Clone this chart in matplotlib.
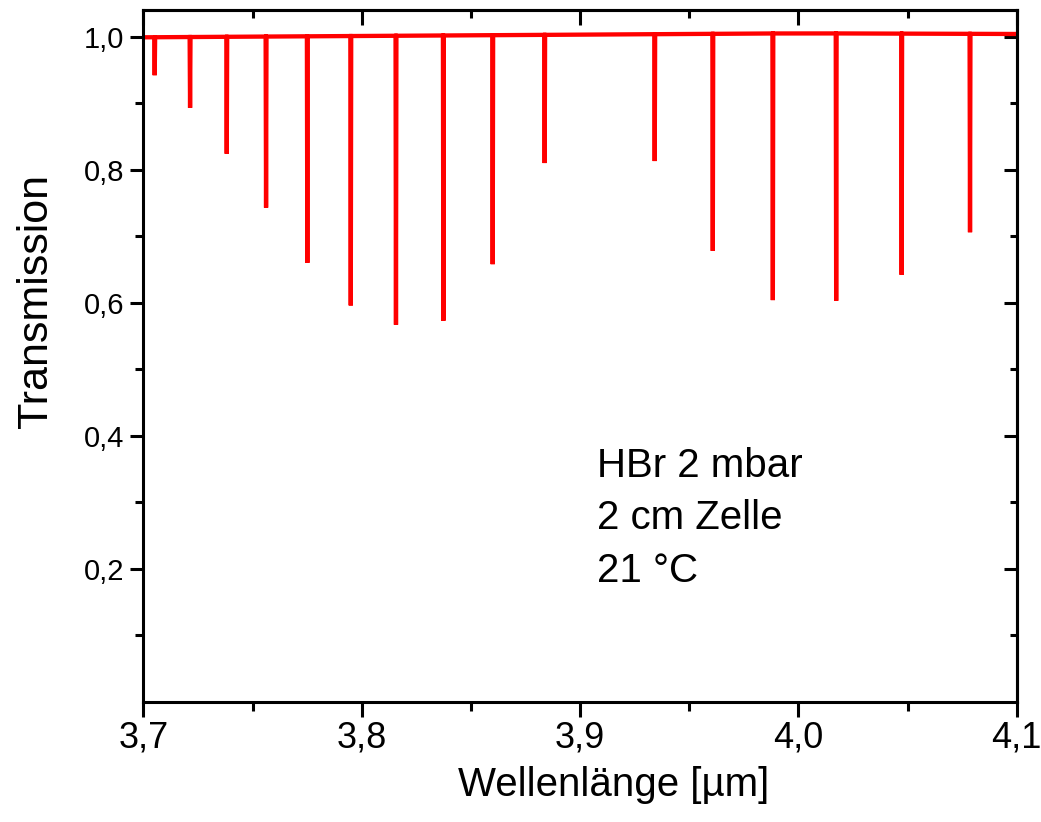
# HBr transmission spectrum, 2 mbar, 2 cm cell
import numpy as np
import matplotlib.pyplot as plt
from matplotlib.ticker import MultipleLocator, FixedLocator, FuncFormatter

plt.rcParams['font.family'] = ['Liberation Sans', 'DejaVu Sans']

# absorption lines: centre wavelength (um) and minimum transmission
dip_center = [3.7052, 3.7214, 3.7382, 3.7562, 3.7751, 3.7950, 3.8157, 3.8374,
              3.8600, 3.8838, 3.9342, 3.9608, 3.9883, 4.0173, 4.0473, 4.0786]
dip_min = [0.942, 0.893, 0.824, 0.743, 0.660, 0.596, 0.567, 0.573,
           0.658, 0.810, 0.813, 0.678, 0.604, 0.603, 0.642, 0.706]

# slowly drifting baseline
base_x = [3.70, 3.80, 3.90, 4.00, 4.10]
base_y = [0.999, 1.001, 1.003, 1.005, 1.004]

annot = ["HBr 2 mbar", "2 cm Zelle", "21 °C"]


def comma(v, pos):
    return f"{v:.1f}".replace(".", ",")


# assemble the trace: baseline with narrow dips
half = 0.0002
xs = [base_x[0]]
ys = [base_y[0]]
for c, d in zip(dip_center, dip_min):
    b = np.interp(c, base_x, base_y)
    xs += [c - half, c, c + half]
    ys += [b, d, b]
xs.append(base_x[-1])
ys.append(base_y[-1])

fig = plt.figure(figsize=(10.41, 8.22), dpi=100)
ax = fig.add_axes([0.1377, 0.1460, 0.8390, 0.8418])

ax.plot(xs, ys, color='#ff0000', lw=3.1, solid_joinstyle='miter')

ax.set_xlim(3.7, 4.1)
ax.set_ylim(0.0, 1.04)

ax.xaxis.set_major_locator(MultipleLocator(0.1))
ax.xaxis.set_minor_locator(MultipleLocator(0.05))
ax.yaxis.set_major_locator(FixedLocator([0.2, 0.4, 0.6, 0.8, 1.0]))
ax.yaxis.set_minor_locator(FixedLocator([0.1, 0.3, 0.5, 0.7, 0.9]))
ax.xaxis.set_major_formatter(FuncFormatter(comma))
ax.yaxis.set_major_formatter(FuncFormatter(comma))

for s in ax.spines.values():
    s.set_linewidth(2.2)

ax.tick_params(axis='x', which='major', direction='out', length=10.5, width=2.2,
               labelsize=26, pad=3)
ax.tick_params(axis='x', which='minor', direction='out', length=6.5, width=2.2)
ax.tick_params(axis='y', which='major', direction='out', length=9.5, width=2.2,
               labelsize=21, pad=4)
ax.tick_params(axis='y', which='minor', direction='out', length=5.5, width=2.2)

# top and right: inward ticks, no labels
top = ax.secondary_xaxis('top')
top.xaxis.set_major_locator(MultipleLocator(0.1))
top.xaxis.set_minor_locator(MultipleLocator(0.05))
top.tick_params(which='major', direction='in', length=10.5, width=2.2, labeltop=False)
top.tick_params(which='minor', direction='in', length=6, width=2.2)
top.spines['top'].set_linewidth(2.2)

right = ax.secondary_yaxis('right')
right.yaxis.set_major_locator(FixedLocator([0.2, 0.4, 0.6, 0.8, 1.0]))
right.yaxis.set_minor_locator(FixedLocator([0.1, 0.3, 0.5, 0.7, 0.9]))
right.tick_params(which='major', direction='in', length=9.5, width=2.2, labelright=False)
right.tick_params(which='minor', direction='in', length=5, width=2.2)
right.spines['right'].set_linewidth(2.2)

ax.set_xlabel("Wellenlänge [µm]", fontsize=29)
ax.xaxis.set_label_coords(0.538, -0.093)
ax.set_ylabel("Transmission", fontsize=31)
ax.yaxis.set_label_coords(-0.100, 0.579)

for i, line in enumerate(annot):
    fig.text(596.7 / 1041, 1 - (476.7 + 52.5 * i) / 822, line,
             fontsize=29, ha='left', va='baseline')

fig.savefig("out.png", dpi=100)
